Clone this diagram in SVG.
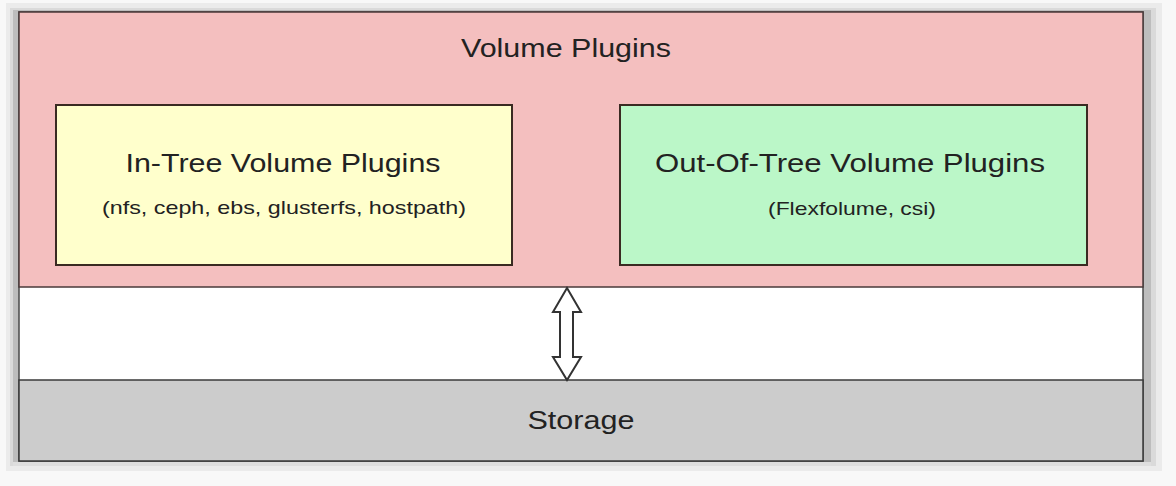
<svg xmlns="http://www.w3.org/2000/svg" width="1176" height="486" viewBox="0 0 1176 486">
<style>
.t{font-family:"Liberation Sans",Arial,sans-serif;fill:#222;text-anchor:middle}
.h{font-size:26px}
.s{font-size:19px}
.box{stroke:#3a2a22;stroke-width:2}
</style>
<rect width="1176" height="486" fill="#f8f8f8"/>
<!-- shadow -->
<rect x="6" y="3" width="1156" height="468" fill="#ebebeb"/>
<rect x="10" y="8" width="1146" height="458" fill="#dadada"/>
<rect x="13" y="10" width="1138" height="453" fill="#bdbdbd"/>
<rect x="13" y="462" width="1138" height="4" fill="#dedede"/>
<g id="frame">
<rect x="19" y="12" width="1124" height="449" fill="#ffffff" stroke="#4a4a4a" stroke-width="1.5"/>
</g>
<g id="volume-plugins">
<rect x="19" y="12" width="1124" height="275" fill="#f4bfbf" stroke="#4a3a3a" stroke-width="1.5"/>
<text class="t h" x="566" y="57" textLength="210" lengthAdjust="spacingAndGlyphs">Volume Plugins</text>
</g>
<g id="in-tree">
<rect class="box" x="56" y="105" width="456" height="160" fill="#ffffcc"/>
<text class="t h" x="283" y="172" textLength="315" lengthAdjust="spacingAndGlyphs">In-Tree Volume Plugins</text>
<text class="t s" x="284" y="214" textLength="364" lengthAdjust="spacingAndGlyphs">(nfs, ceph, ebs, glusterfs, hostpath)</text>
</g>
<g id="out-of-tree">
<rect class="box" x="620" y="105" width="467" height="160" fill="#bbf7c8"/>
<text class="t h" x="850" y="172" textLength="390" lengthAdjust="spacingAndGlyphs">Out-Of-Tree Volume Plugins</text>
<text class="t s" x="852" y="215" textLength="168" lengthAdjust="spacingAndGlyphs">(Flexfolume, csi)</text>
</g>
<g id="storage">
<rect x="19" y="380" width="1124" height="81" fill="#cccccc" stroke="#3a3a3a" stroke-width="1.5"/>
<text class="t h" x="581" y="429" textLength="107" lengthAdjust="spacingAndGlyphs">Storage</text>
</g>
<g id="connectors">
<path d="M567,288 L553,312 L560,312 L560,357 L553,357 L567,380 L581,357 L573,357 L573,312 L581,312 Z" fill="#ffffff" stroke="#333" stroke-width="2" stroke-linejoin="miter"/>
</g>
</svg>
